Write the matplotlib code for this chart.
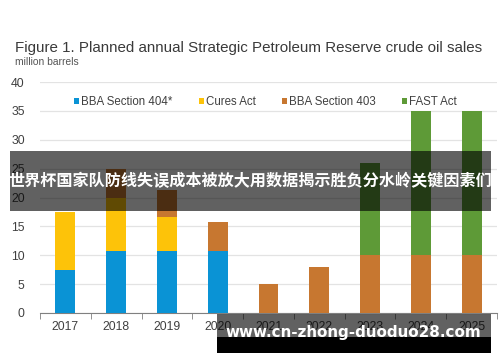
import matplotlib
matplotlib.use("Agg")
import matplotlib.pyplot as plt
import numpy as np
from matplotlib.patches import Rectangle

years = ["2017", "2018", "2019", "2020", "2021", "2022", "2023", "2024", "2025"]
bba404 = [7.5, 10.8, 10.8, 10.8, 0, 0, 0, 0, 0]
cures = [10.0, 9.2, 5.9, 0, 0, 0, 0, 0, 0]
bba403 = [0, 5.0, 4.6, 5.0, 5.0, 8.0, 10.0, 10.0, 10.0]
fast = [0, 0, 0, 0, 0, 0, 16.0, 25.0, 25.0]
series_names = ["BBA Section 404*", "Cures Act", "BBA Section 403", "FAST Act"]
colors = ["#0A93D5", "#FDC309", "#C77730", "#5E9A37"]
yticks = [0, 5, 10, 15, 20, 25, 30, 35, 40]

plt.rcParams['font.family'] = ['Liberation Sans', 'DejaVu Sans']
fig = plt.figure(figsize=(5, 3.62), dpi=100)
ax = fig.add_axes([0.08, 0.1354, 0.914, 0.638])

x = np.arange(len(years))
bottom = np.zeros(len(years))
handles = []
for vals, name, c in zip([bba404, cures, bba403, fast], series_names, colors):
    v = np.array(vals, dtype=float)
    h = ax.bar(x, v, 0.39, bottom=bottom, color=c, label=name, zorder=3)
    handles.append(h)
    bottom += v

ax.set_xlim(-0.5, len(years) - 0.5)
ax.set_ylim(0, 40)
ax.set_yticks(yticks)
ax.set_yticklabels([str(t) for t in yticks], fontsize=8.8, color="#404040")
ax.set_xticks(x)
ax.set_xticklabels(years, fontsize=8.8, color="#404040")
ax.set_xticks(np.arange(-0.5, len(years), 1.0), minor=True)
ax.tick_params(axis='x', which='major', length=0, pad=6)
ax.tick_params(axis='x', which='minor', length=4, color="#808080", direction='out')
ax.tick_params(axis='y', length=0, pad=11)
for s in ['top', 'right', 'left']:
    ax.spines[s].set_visible(False)
ax.spines['bottom'].set_color("#808080")
ax.yaxis.grid(True, color="#E3E3E3", linewidth=0.9, zorder=0)
ax.set_axisbelow(True)

leg = ax.legend(handles=handles, labels=series_names, loc='upper center',
                bbox_to_anchor=(0.493, 0.985), ncol=4, frameon=False,
                fontsize=8.3, handlelength=0.45, handleheight=0.45,
                handletextpad=0.15, columnspacing=2.3, labelcolor="#404040")

fig.text(0.03, 0.868, "Figure 1. Planned annual Strategic Petroleum Reserve crude oil sales",
         fontsize=10.9, color="#3A3A3A", va='center', ha='left')
fig.text(0.03, 0.830, "million barrels", fontsize=7.4, color="#555555", va='center', ha='left')

# overlay banner
W, H = 500, 362
def px_rect(x0, y0, x1, y1, **kw):
    return Rectangle((x0 / W, 1 - y1 / H), (x1 - x0) / W, (y1 - y0) / H,
                     transform=fig.transFigure, **kw)

fig.patches.append(px_rect(10, 151, 491, 211, facecolor="black", alpha=0.62, zorder=10))
fig.text(250.5 / W, 1 - 181 / H, "世界杯国家队防线失误成本被放大用数据揭示胜负分水岭关键因素们",
         fontsize=11.6, color="white", fontweight='bold', ha='center', va='center',
         family=['Noto Sans CJK SC', 'DejaVu Sans'], zorder=11)

fig.patches.append(px_rect(217, 314, 491, 337, facecolor="black", alpha=0.62, zorder=10))
fig.patches.append(px_rect(217, 337, 491, 353, facecolor="black", alpha=1.0, zorder=10))
fig.text(353 / W, 1 - 332 / H, "www.cn-zhong-duoduo28.com", fontsize=10.9, color="white",
         fontweight='bold', ha='center', va='center', family=['DejaVu Sans'], zorder=11)

fig.savefig("out.png", dpi=100)
